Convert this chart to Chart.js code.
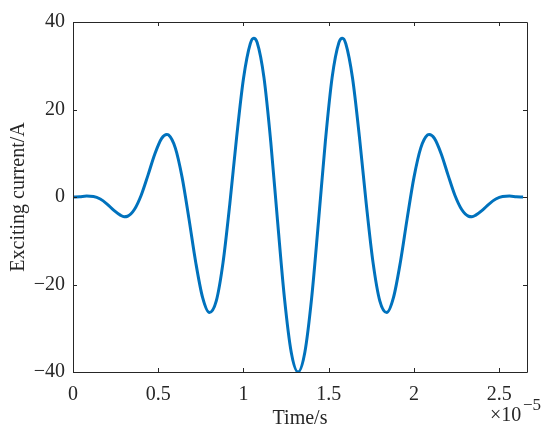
<!DOCTYPE html>
<html>
<head>
<meta charset="utf-8">
<script src="https://cdn.jsdelivr.net/npm/chart.js@4.4.1/dist/chart.umd.min.js"></script>
<style>
    html, body { margin: 0; padding: 0; background: #fff; }
    #myChart { display: block; }
</style>
</head>
<body>
<canvas id="myChart" width="550" height="437"></canvas>
<script>
// time in units of 1e-5 s (axis shows "x10^-5")
const timeE5 = [
    0, 0.04, 0.08, 0.12, 0.16, 0.20, 0.24, 0.28, 0.30, 0.32, 0.36, 0.40, 0.44, 0.48, 0.52, 0.55, 0.56,
    0.60, 0.64, 0.68, 0.72, 0.76, 0.80, 0.84, 0.88, 0.92, 0.96, 1.00, 1.04, 1.06, 1.08,
    1.12, 1.16, 1.20, 1.24, 1.28, 1.32, 1.36, 1.40, 1.44, 1.48, 1.52, 1.56, 1.58, 1.60,
    1.64, 1.68, 1.72, 1.76, 1.80, 1.84, 1.88, 1.92, 1.96, 2.00, 2.04, 2.08, 2.09, 2.12,
    2.16, 2.20, 2.24, 2.28, 2.32, 2.34, 2.36, 2.40, 2.44, 2.48, 2.52, 2.56, 2.60, 2.64
];
const currentA = [
    0, 0.08, 0.21, 0.12, -0.47, -1.61, -3.05, -4.20, -4.5, -4.4, -2.87, 0.40, 5.0, 9.84, 13.40, 14.3, 14.19,
    11.23, 4.49, -4.94, -14.96, -22.95, -26.42, -23.82, -15.0, -1.50, 13.75, 27.10, 35.07, 36.3, 35.34,
    27.34, 12.62, -5.58, -23.0, -35.47, -40, -35.47, -23.0, -5.58, 12.62, 27.34, 35.34, 36.3, 35.07,
    27.10, 13.75, -1.50, -15.0, -23.82, -26.42, -22.95, -14.96, -4.94, 4.49, 11.23, 14.19, 14.3, 13.40,
    9.84, 5.0, 0.40, -2.87, -4.4, -4.5, -4.20, -3.05, -1.61, -0.47, 0.12, 0.21, 0.08, 0
];
const xTicks = [0, 0.5, 1, 1.5, 2, 2.5];
const yTicks = [-40, -20, 0, 20, 40];
const xRange = [0, 2.663];
const yRange = [-40, 40];

const axisColor = '#262626';
const fontFamily = '"Liberation Serif", "Times New Roman", serif';

function buildPoints() {
    return timeE5.map((t, i) => ({ x: t, y: currentA[i] }));
}

// MATLAB style box with inward ticks and the exponent label
const matlabAxes = {
    id: 'matlabAxes',
    afterDraw(chart) {
        const { ctx, chartArea: area, scales } = chart;
        const tickLen = 4;
        ctx.save();
        ctx.strokeStyle = axisColor;
        ctx.lineWidth = 1;
        ctx.beginPath();
        ctx.rect(area.left + 0.5, area.top + 0.5, area.right - area.left, area.bottom - area.top);
        xTicks.forEach(v => {
            const px = Math.round(scales.x.getPixelForValue(v)) + 0.5;
            ctx.moveTo(px, area.bottom);
            ctx.lineTo(px, area.bottom - tickLen);
            ctx.moveTo(px, area.top);
            ctx.lineTo(px, area.top + tickLen);
        });
        yTicks.forEach(v => {
            const py = Math.round(scales.y.getPixelForValue(v)) + 0.5;
            ctx.moveTo(area.left, py);
            ctx.lineTo(area.left + tickLen, py);
            ctx.moveTo(area.right, py);
            ctx.lineTo(area.right - tickLen, py);
        });
        ctx.stroke();

        ctx.fillStyle = axisColor;
        ctx.textAlign = 'left';
        ctx.textBaseline = 'alphabetic';
        ctx.font = '20px ' + fontFamily;
        ctx.fillText('\u00d710', 490, 421);
        ctx.font = '17px ' + fontFamily;
        ctx.fillText('\u22125', 523, 410);
        ctx.restore();
    }
};

function createChart() {
    const ctx = document.getElementById('myChart').getContext('2d');
    Chart.defaults.font.family = fontFamily;
    Chart.defaults.color = axisColor;

    new Chart(ctx, {
        type: 'line',
        data: {
            datasets: [{
                data: buildPoints(),
                borderColor: '#0072BD',
                borderWidth: 3,
                pointRadius: 0,
                cubicInterpolationMode: 'monotone',
                fill: false
            }]
        },
        options: {
            responsive: false,
            animation: false,
            devicePixelRatio: 1,
            layout: { padding: { top: 22, right: 23, left: 0, bottom: 0 } },
            plugins: {
                legend: { display: false },
                tooltip: { enabled: false }
            },
            scales: {
                x: {
                    type: 'linear',
                    min: xRange[0],
                    max: xRange[1],
                    grid: { display: false, drawTicks: false },
                    border: { display: false },
                    afterBuildTicks: axis => { axis.ticks = xTicks.map(v => ({ value: v })); },
                    afterFit: axis => { axis.height = 65; },
                    ticks: {
                        autoSkip: false,
                        maxRotation: 0,
                        padding: 11,
                        font: { size: 20 },
                        color: axisColor,
                        callback: v => String(v)
                    },
                    title: {
                        display: true,
                        text: 'Time/s',
                        font: { size: 20 },
                        color: axisColor,
                        padding: { top: 0, bottom: 6 }
                    }
                },
                y: {
                    min: yRange[0],
                    max: yRange[1],
                    grid: { display: false, drawTicks: false },
                    border: { display: false },
                    afterBuildTicks: axis => { axis.ticks = yTicks.map(v => ({ value: v })); },
                    afterFit: axis => { axis.width = 73; },
                    ticks: {
                        autoSkip: false,
                        padding: 8,
                        font: { size: 20 },
                        color: axisColor,
                        callback: v => String(v).replace('-', '\u2212')
                    },
                    title: {
                        display: true,
                        text: 'Exciting current/A',
                        font: { size: 20 },
                        color: axisColor,
                        padding: { top: 7, bottom: 0 }
                    }
                }
            }
        },
        plugins: [matlabAxes]
    });
}

document.addEventListener('DOMContentLoaded', createChart);
</script>
</body>
</html>
